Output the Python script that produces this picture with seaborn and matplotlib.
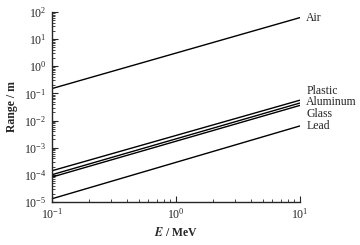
import matplotlib
matplotlib.use("Agg")
import matplotlib.pyplot as plt
import seaborn as sns
import pandas as pd
import numpy as np
from matplotlib.ticker import LogLocator, NullFormatter

# values (range in metres at E = 0.1 and 10 MeV)
materials = ["Air", "Plastic", "Aluminum", "Glass", "Lead"]
energy = [0.1, 10.0]
range_air = [0.15, 62.0]
range_plastic = [1.4e-4, 0.056]
range_aluminum = [1.0e-4, 0.044]
range_glass = [8.2e-5, 0.036]
range_lead = [1.3e-5, 0.0063]

all_ranges = [range_air, range_plastic, range_aluminum, range_glass, range_lead]
rows = []
for name, vals in zip(materials, all_ranges):
    for e, r in zip(energy, vals):
        rows.append({"material": name, "E": e, "range": r})
df = pd.DataFrame(rows)

sns.set_style("ticks")
plt.rcParams["font.family"] = ["Liberation Serif", "DejaVu Serif"]
plt.rcParams["mathtext.fontset"] = "stix"

fig = plt.figure(figsize=(3.6, 2.45), dpi=100)
ax = fig.add_axes([0.144, 0.176, 0.689, 0.775])

sns.lineplot(data=df, x="E", y="range", hue="material",
             palette=["black"] * len(materials), legend=False,
             linewidth=1.0, ax=ax)

ax.set_xscale("log")
ax.set_yscale("log")
ax.set_xlim(0.1, 10)
ax.set_ylim(1e-5, 1e2)

ax.xaxis.set_major_locator(LogLocator(base=10, numticks=10))
ax.xaxis.set_minor_locator(LogLocator(base=10, subs=np.arange(2, 10), numticks=10))
ax.yaxis.set_major_locator(LogLocator(base=10, numticks=10))
ax.yaxis.set_minor_locator(LogLocator(base=10, subs=np.arange(2, 10), numticks=10))
ax.xaxis.set_minor_formatter(NullFormatter())
ax.yaxis.set_minor_formatter(NullFormatter())

ax.tick_params(which="major", direction="in", length=4, width=0.8, labelsize=8.5, pad=4)
ax.tick_params(which="minor", direction="in", length=2, width=0.6)
for s in ["top", "right"]:
    ax.spines[s].set_visible(False)
for s in ["left", "bottom"]:
    ax.spines[s].set_linewidth(1.0)

ax.set_xlabel(r"$\boldsymbol{E}$ / MeV", fontsize=8.5, fontweight="bold", labelpad=3)
ax.set_ylabel("Range / m", fontsize=8.5, fontweight="bold", labelpad=4)

# end labels with short leader lines
lead_style = dict(arrowstyle="-", lw=0.6, shrinkA=0, shrinkB=1)
ax.annotate("Air", xy=(10, range_air[1]), xytext=(4, 0), textcoords="offset points",
            fontsize=8.5, va="center", annotation_clip=False)
ax.annotate("Plastic", xy=(10, range_plastic[1]), xytext=(4.5, 6.5), textcoords="offset points",
            fontsize=8.5, va="center", annotation_clip=False, arrowprops=lead_style)
ax.annotate("Aluminum", xy=(10, range_aluminum[1]), xytext=(4.5, 0.7), textcoords="offset points",
            fontsize=8.5, va="center", annotation_clip=False, arrowprops=lead_style)
ax.annotate("Glass", xy=(10, range_glass[1]), xytext=(4.5, -6), textcoords="offset points",
            fontsize=8.5, va="center", annotation_clip=False, arrowprops=lead_style)
ax.annotate("Lead", xy=(10, range_lead[1]), xytext=(4.5, 0), textcoords="offset points",
            fontsize=8.5, va="center", annotation_clip=False)

fig.savefig("out.png", dpi=100)
